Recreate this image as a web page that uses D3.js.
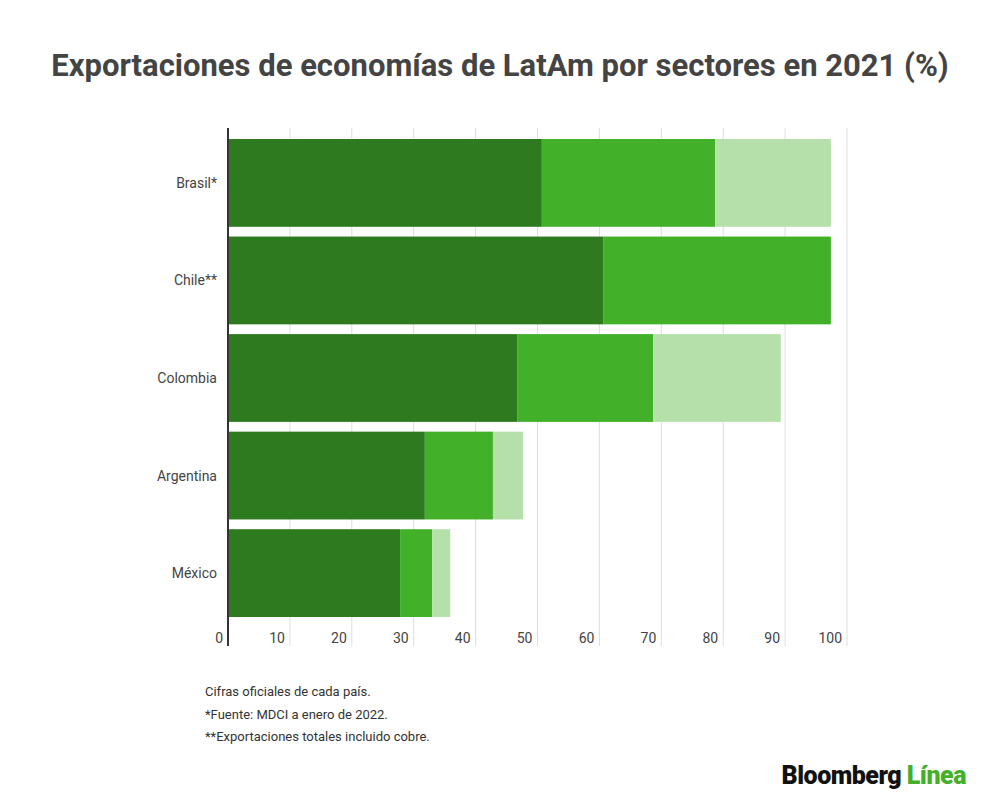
<!DOCTYPE html>
<html><head><meta charset="utf-8">
<script src="https://cdn.jsdelivr.net/npm/d3@7"></script>
<style>body{margin:0;background:#fff;font-family:Roboto,sans-serif}</style>
</head><body><svg id="c" width="1000" height="808"></svg>
<script>
var countries = ['Brasil*', 'Chile**', 'Colombia', 'Argentina', 'México'];
var primarios = [50.7, 60.6, 46.7, 31.8, 27.8];
var manufacturas = [28.0, 36.8, 22.0, 11.0, 5.2];
var otros = [18.7, 0, 20.6, 4.9, 2.9];
var ticks = [0, 10, 20, 30, 40, 50, 60, 70, 80, 90, 100];
var colors = ['#2e7a1f', '#43b02a', '#b5e0a9'];

var svg = d3.select('#c');
var x = d3.scaleLinear().domain([0, 100]).range([228, 847]);
var y = d3.scaleBand().domain(countries).range([139, 617]).paddingInner(0.1);

svg.append('text').attr('x', 500).attr('y', 76).attr('text-anchor', 'middle')
  .attr('font-size', 31).attr('font-weight', 'bold').attr('fill', '#444')
  .text('Exportaciones de economías de LatAm por sectores en 2021 (%)');

svg.selectAll('.grid').data(ticks.slice(1)).enter().append('line')
  .attr('x1', d => x(d)).attr('x2', d => x(d)).attr('y1', 128).attr('y2', 646)
  .attr('stroke', '#ddd');

var series = [primarios, manufacturas, otros];
var stack = countries.map((c, i) => {
  var s = 0;
  return series.map((arr, k) => { var r = {c: c, x0: s, x1: s + arr[i], k: k}; s += arr[i]; return r; });
});
svg.selectAll('.row').data(stack).enter().append('g').selectAll('rect')
  .data(d => d).enter().append('rect')
  .attr('x', d => x(d.x0)).attr('width', d => x(d.x1) - x(d.x0))
  .attr('y', d => y(d.c)).attr('height', y.bandwidth())
  .attr('fill', d => colors[d.k]);

svg.append('line').attr('x1', 228).attr('x2', 228).attr('y1', 128).attr('y2', 646)
  .attr('stroke', '#333').attr('stroke-width', 2);

svg.selectAll('.tl').data(ticks).enter().append('text')
  .attr('x', d => x(d) - 5).attr('y', 643).attr('text-anchor', 'end')
  .attr('font-size', 14).attr('fill', '#444').text(d => d);

svg.selectAll('.yl').data(countries).enter().append('text')
  .attr('x', 217).attr('y', d => y(d) + y.bandwidth() / 2 + 5).attr('text-anchor', 'end')
  .attr('font-size', 14).attr('fill', '#444').text(d => d);

var notes = ['Cifras oficiales de cada país.', '*Fuente: MDCI a enero de 2022.', '**Exportaciones totales incluido cobre.'];
svg.selectAll('.n').data(notes).enter().append('text')
  .attr('x', 205).attr('y', (d, i) => 696 + i * 22.5)
  .attr('font-size', 13).attr('fill', '#333').text(d => d);

var logo = svg.append('text').attr('x', 966).attr('y', 784).attr('text-anchor', 'end')
  .attr('font-size', 25).attr('font-weight', 900).attr('letter-spacing', -0.5);
logo.append('tspan').attr('fill', '#111').text('Bloomberg ');
logo.append('tspan').attr('fill', '#43b02a').text('Línea');
</script></body></html>
